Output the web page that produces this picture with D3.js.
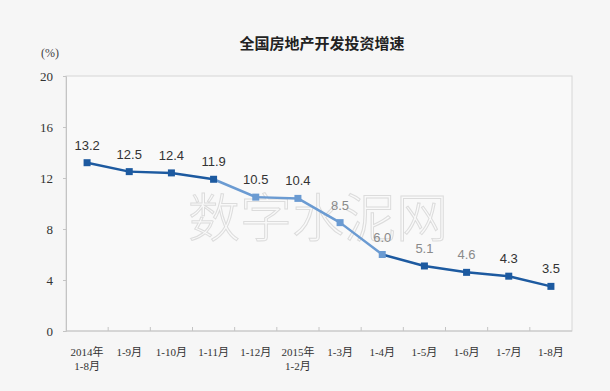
<!DOCTYPE html>
<html>
<head>
<meta charset="utf-8">
<script src="https://cdn.jsdelivr.net/npm/d3@7"></script>
<style>
  body { margin: 0; background: #f6f6f6; }
  svg { display: block; }
</style>
</head>
<body>
<svg id="chart"></svg>
<script>
// categories (two-line labels split by \n)
const periods = ['2014年\n1-8月', '1-9月', '1-10月', '1-11月', '1-12月', '2015年\n1-2月',
  '1-3月', '1-4月', '1-5月', '1-6月', '1-7月', '1-8月'];
const growth = [13.2, 12.5, 12.4, 11.9, 10.5, 10.4, 8.5, 6.0, 5.1, 4.6, 4.3, 3.5];
const yTicks = [0, 4, 8, 12, 16, 20];
// segments drawn in the lighter blue (start index of segment)
const lightFrom = 3, lightTo = 7;

const width = 610, height = 391;
const margin = { top: 76, left: 66, right: 38, bottom: 60 };
const DARK = '#1d5aa0', LIGHT = '#6b9bd2';

const svg = d3.select('#chart').attr('width', width).attr('height', height);

svg.append('rect').attr('width', width).attr('height', height).attr('fill', '#f6f6f6');

const x = d3.scaleBand().domain(d3.range(periods.length))
  .range([margin.left, width - margin.right]);
const y = d3.scaleLinear().domain([0, 20]).range([height - margin.bottom, margin.top]);

// plot frame
svg.append('rect')
  .attr('x', margin.left).attr('y', y(20))
  .attr('width', x.range()[1] - margin.left).attr('height', y(0) - y(20))
  .attr('fill', '#f9f9f9').attr('stroke', '#d6d6d6');

// watermark
svg.append('text')
  .attr('x', 318).attr('y', 237)
  .attr('text-anchor', 'middle')
  .style('font-family', '"Noto Sans CJK SC", sans-serif')
  .style('font-size', '52px').style('font-weight', 300)
  .attr('fill', 'none').attr('stroke', '#dcdcdc').attr('stroke-width', 1)
  .text('数字水泥网');

// y axis
const yAxis = svg.append('g')
  .attr('transform', `translate(${margin.left},0)`)
  .call(d3.axisLeft(y).tickValues(yTicks).tickSize(3).tickPadding(10));
yAxis.select('.domain').attr('stroke', '#c4c4c4');
yAxis.selectAll('.tick line').attr('stroke', '#c4c4c4');
yAxis.selectAll('text')
  .style('font-family', '"Liberation Serif", serif').style('font-size', '13px').attr('fill', '#333');

// x axis: ticks at band boundaries, pointing up
const xAxisG = svg.append('g').attr('transform', `translate(0,${y(0)})`);
xAxisG.append('line')
  .attr('x1', margin.left).attr('x2', x.range()[1])
  .attr('stroke', '#c4c4c4');
xAxisG.selectAll('.bt').data(d3.range(1, periods.length))
  .join('line')
  .attr('x1', i => x(i)).attr('x2', i => x(i))
  .attr('y1', 0).attr('y2', -4)
  .attr('stroke', '#c4c4c4');
xAxisG.selectAll('.xl').data(periods)
  .join('text')
  .attr('text-anchor', 'middle')
  .style('font-family', '"Liberation Serif", "Noto Sans CJK SC", serif')
  .style('font-size', '11px').attr('fill', '#333')
  .each(function (d, i) {
    const t = d3.select(this);
    d.split('\n').forEach((line, k) => {
      t.append('tspan')
        .attr('x', x(i) + x.bandwidth() / 2)
        .attr('y', 25 + k * 14)
        .text(line);
    });
  });

// line segments
const cx = i => x(i) + x.bandwidth() / 2;
const segs = d3.range(growth.length - 1);
svg.selectAll('.seg').data(segs)
  .join('line')
  .attr('x1', i => cx(i)).attr('y1', i => y(growth[i]))
  .attr('x2', i => cx(i + 1)).attr('y2', i => y(growth[i + 1]))
  .attr('stroke', i => (i >= lightFrom && i < lightTo) ? LIGHT : DARK)
  .attr('stroke-width', 2.5).attr('stroke-linecap', 'round');

// markers
svg.selectAll('.pt').data(growth)
  .join('rect')
  .attr('x', (d, i) => cx(i) - 3.5).attr('y', d => y(d) - 3.5)
  .attr('width', 7).attr('height', 7)
  .attr('fill', (d, i) => (i > lightFrom && i <= lightTo) ? LIGHT : DARK);

// value labels
svg.selectAll('.vl').data(growth)
  .join('text')
  .attr('x', (d, i) => cx(i)).attr('y', d => y(d) - 13)
  .attr('text-anchor', 'middle')
  .style('font-family', '"Liberation Sans", Arial, sans-serif').style('font-size', '13px')
  .attr('fill', (d, i) => (i >= 6 && i <= 9) ? '#8a8a8a' : '#333')
  .text(d => d.toFixed(1));

// title and unit
svg.append('text')
  .attr('x', 322).attr('y', 49).attr('text-anchor', 'middle')
  .style('font-family', '"Noto Sans CJK SC", sans-serif').style('font-size', '15px')
  .style('font-weight', 'bold').attr('fill', '#222')
  .text('全国房地产开发投资增速');
svg.append('text')
  .attr('x', 50).attr('y', 57).attr('text-anchor', 'middle')
  .style('font-family', '"Liberation Serif", serif').style('font-size', '12px').attr('fill', '#444')
  .text('(%)');
</script>
</body>
</html>
